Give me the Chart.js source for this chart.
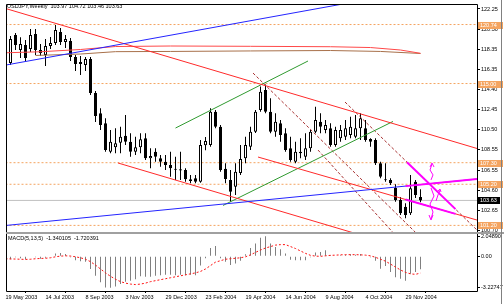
<!DOCTYPE html>
<html>
<head>
<meta charset="utf-8">
<script src="https://cdn.jsdelivr.net/npm/chart.js@4.4.1/dist/chart.umd.min.js"></script>
<style>
  html, body { margin: 0; padding: 0; background: #fff; }
  #wrap { position: relative; width: 504px; height: 304px; overflow: hidden; }
  canvas { position: absolute; left: 0; }
  #main { top: 0; }
  #macd { top: 232px; }
</style>
</head>
<body>
<div id="wrap">
  <canvas id="main" width="504" height="232"></canvas>
  <canvas id="macd" width="504" height="72"></canvas>
</div>
<script>
// weekly bars, index 0 = 19 May 2003
var dateLabels = ['19 May 2003','14 Jul 2003','8 Sep 2003','3 Nov 2003','29 Dec 2003','23 Feb 2004','19 Apr 2004','14 Jun 2004','9 Aug 2004','4 Oct 2004','29 Nov 2004'];
var dateBars = [0, 8, 16, 24, 32, 40, 48, 56, 64, 72, 80];

var opens = [115.90,116.99,119.72,118.26,118.75,118.36,119.82,118.26,117.77,118.65,
  118.94,120.01,119.04,119.14,117.58,116.90,116.80,117.38,114.08,112.10,
  111.13,108.37,108.80,109.24,109.92,109.34,108.37,108.80,109.67,107.73,
  108.37,107.73,107.40,107.07,106.70,106.65,106.59,105.68,105.78,105.45,
  109.00,109.02,112.26,110.80,106.70,105.62,104.97,106.30,107.73,108.86,
  110.32,112.43,114.37,112.26,110.32,111.13,110.16,108.70,107.40,108.37,
  107.88,108.70,110.32,111.29,110.48,110.64,109.02,109.67,109.83,110.00,
  109.83,110.65,110.65,109.61,109.51,107.24,105.67,105.62,104.86,103.67,
  103.02,102.38,105.44,103.97];
var highs = [117.00,119.62,119.92,119.50,119.23,120.30,120.30,118.85,119.33,119.53,
  120.69,120.40,119.72,119.43,117.77,117.67,117.58,117.58,114.27,112.59,
  111.62,110.48,110.64,110.80,111.94,110.16,109.83,110.16,110.16,108.70,
  108.70,108.05,108.05,108.37,107.88,108.37,106.75,106.11,106.11,109.51,
  109.80,112.59,112.43,110.97,107.24,106.59,107.24,109.02,109.83,110.80,
  112.43,114.70,114.90,113.56,112.10,111.45,110.64,109.83,109.34,109.67,
  110.16,110.48,112.75,112.10,111.45,111.13,110.80,110.97,111.45,111.78,
  111.94,112.10,111.45,109.67,109.67,107.40,107.24,105.78,105.20,103.96,
  103.35,106.11,105.62,104.72];
var lows = [115.60,116.80,118.26,117.48,117.09,118.07,117.77,117.67,116.70,118.36,
  118.75,118.75,118.46,117.19,116.22,115.83,116.22,113.88,111.26,110.48,
  108.37,108.21,108.21,108.21,109.02,107.88,108.05,108.21,107.56,106.75,
  107.40,106.91,106.59,105.94,105.62,105.62,105.45,105.30,105.30,105.35,
  108.50,108.86,110.64,106.43,105.30,103.50,104.16,106.11,107.24,108.53,
  110.19,112.26,112.10,110.16,109.83,109.34,108.37,107.40,107.24,107.73,
  107.56,108.37,110.16,110.16,110.16,108.86,108.86,109.34,109.51,109.67,
  109.67,109.51,109.34,108.86,107.07,105.78,105.45,105.13,103.51,102.21,
  101.89,102.21,103.87,103.46];
var closes = [116.80,119.33,118.75,118.85,117.48,119.72,118.26,117.97,118.65,118.94,
  120.21,119.04,119.33,117.58,116.90,117.09,117.38,114.08,111.84,110.97,
  108.53,109.34,109.18,109.83,109.34,108.37,108.80,109.57,107.73,107.95,
  107.88,107.40,107.07,106.75,106.62,106.55,105.68,105.52,105.45,109.02,
  109.40,112.26,110.80,106.59,105.72,104.48,106.43,107.66,109.02,110.32,
  112.26,114.21,112.26,110.32,111.29,109.99,108.53,107.56,108.37,108.21,
  108.70,110.32,111.45,110.80,110.97,109.02,110.48,110.48,110.64,110.80,
  110.64,111.62,109.51,109.34,107.24,105.94,105.60,105.29,103.67,102.38,
  102.21,104.81,104.15,103.63];

var macdMain = [-0.25,-0.3,-0.1,-0.2,-0.3,-0.05,-0.1,-0.25,-0.15,0.05,
  0.3,0.35,0.25,-0.1,-0.4,-0.5,-0.55,-1.3,-2.0,-2.65,
  -3.2,-3.22747,-3.1,-2.85,-2.6,-2.5,-2.35,-2.05,-2.1,-2.1,
  -2.0,-1.95,-1.9,-1.9,-1.95,-1.9,-1.95,-1.9,-1.95,-0.95,
  -0.2,0.86,1.07,-0.2,-0.55,-0.9,-0.75,-0.45,0.2,0.85,
  1.31,1.9,2.0489,1.31,0.96,0.72,0.28,-0.34,-0.41,-0.41,
  -0.4,-0.1,0.38,0.45,0.62,0.1,0.05,0.1,0.15,0.2,
  0.15,0.25,0.05,-0.1,-0.45,-1.28,-1.0,-1.62,-2.14,-2.31,
  -2.5,-1.8,-1.62,-1.340105];
var macdSignal = [-0.25,-0.27,-0.28,-0.3,-0.32,-0.3,-0.25,-0.22,-0.2,-0.15,
  -0.05,0.02,0.05,0.03,-0.05,-0.15,-0.3,-0.55,-0.9,-1.3,
  -1.7,-2.05,-2.35,-2.6,-2.75,-2.85,-2.9,-2.85,-2.75,-2.6,
  -2.5,-2.4,-2.3,-2.2,-2.1,-2.0,-1.9,-1.8,-1.7,-1.55,
  -1.3,-0.95,-0.6,-0.45,-0.3,-0.25,-0.2,-0.15,-0.05,0.15,
  0.4,0.65,0.85,1.0,1.15,1.2,1.2,1.0,0.8,0.55,
  0.3,0.1,0.02,0.0,0.05,0.1,0.12,0.15,0.17,0.17,
  0.17,0.15,0.12,0.05,-0.1,-0.3,-0.5,-0.8,-1.1,-1.4,
  -1.65,-1.8,-1.85,-1.720391];

var priceTicks = [122.25,120.30,118.35,116.35,114.40,112.45,110.50,108.55,106.55,104.60,102.65,100.70];
var macdTicks = [2.04890, 0, -3.22747];
var levels = [120.74, 115.00, 107.30, 105.20, 101.20];
var bidPrice = 103.63;

// drawn objects: [bar index, price]
var blueUpper = [[0,116.79],[70,122.96]];
var blueLower = [[0,101.19],[95,105.74]];
var redTop = [[0,122.30],[95,108.58]];
var redLow = [[22.5,107.27],[71,100.27]];
var redMid = [[50.5,107.85],[95,101.62]];
var greenUp = [[34,110.67],[60.5,117.19]];
var greenLow = [[43.5,103.14],[77.5,111.31]];
var dash1 = [[49.5,116.02],[83,100.04]];
var dash2 = [[67.9,113.20],[95,100.42]];
var dash3 = [[62.5,108.53],[78,100.24]];
var redMA = [[0,117.99],[7,118.09],[15,118.31],[22,118.60],[33,118.65],[49,118.62],[65,118.58],[73,118.50],[79,118.26],[83,117.94]];
var brownMA = [[6,117.73],[15,117.87],[22,118.10],[33,118.12],[49,118.17],[65,118.21],[75,118.12],[83,117.92]];
var magBlue = [[80,105.02],[95,105.74]];
var magMid = [[80,103.72],[90,102.32]];
var magDiag = [[80.3,107.35],[90,102.78]];
var arrowUp = [[85.1,105.62],[85.5,106.11],[84.9,106.59],[85.3,107.17],null,[84.9,106.88],[85.3,107.27],[85.7,106.88]];
var arrowDown = [[85.1,104.84],[85.7,104.06],[84.9,103.28],[85.5,102.5],[85.1,101.82],null,[84.7,102.21],[85.1,101.72],[85.5,102.21]];
var arrowSmall = [[86.1,103.57],[86.5,104.16],[86.9,104.64],null,[86.5,104.55],[86.9,104.74],[87.1,104.45]];

var FONT = '"Liberation Sans", Arial, sans-serif';
Chart.defaults.font.family = FONT;

function pts(arr) {
  var out = [], lastX = 0;
  for (var i = 0; i < arr.length; i++) {
    if (arr[i] === null) { out.push({x: lastX, y: null}); continue; }
    lastX = arr[i][0];
    out.push({x: arr[i][0], y: arr[i][1]});
  }
  return out;
}
function lineDs(arr, color, width, dash, order) {
  return { type: 'line', data: pts(arr), borderColor: color, borderWidth: width,
    borderDash: dash || [], pointRadius: 0, tension: 0, fill: false, spanGaps: false, order: order };
}

var datasets = [
  lineDs(arrowUp, '#ff00ff', 1, null, 0),
  lineDs(arrowDown, '#ff00ff', 1, null, 0),
  lineDs(arrowSmall, '#ff00ff', 1, null, 0),
  lineDs(magBlue, '#ff00ff', 2, null, 1),
  lineDs(magMid, '#ff00ff', 2, null, 1),
  lineDs(magDiag, '#ff00ff', 2, null, 1),
  lineDs(blueUpper, '#2424ff', 1, null, 2),
  lineDs(blueLower, '#2424ff', 1, null, 2),
  lineDs(redTop, '#ff2a2a', 1, null, 2),
  lineDs(redLow, '#ff2a2a', 1, null, 2),
  lineDs(redMid, '#ff2a2a', 1, null, 2),
  lineDs(greenUp, '#2f9a2f', 1, null, 2),
  lineDs(greenLow, '#2f9a2f', 1, null, 2),
  lineDs(dash1, '#a83232', 1, [3, 2], 3),
  lineDs(dash2, '#a83232', 1, [3, 2], 3),
  lineDs(dash3, '#a83232', 1, [3, 2], 3),
  lineDs(redMA, '#ff4848', 1, null, 4),
  lineDs(brownMA, '#a8704a', 1, null, 4),
  {
    label: 'bodies',
    data: opens.map(function(o, i) { return {x: i, y: [o, closes[i]]}; }),
    backgroundColor: opens.map(function(o, i) { return closes[i] >= o ? '#ffffff' : '#000000'; }),
    borderColor: '#000000', borderWidth: 1, borderSkipped: false,
    barThickness: 3, minBarLength: 1, grouped: false, inflateAmount: 0, order: 20
  },
  {
    label: 'wicks',
    data: lows.map(function(l, i) { return {x: i, y: [l, highs[i]]}; }),
    backgroundColor: '#000000', borderWidth: 0,
    barThickness: 1, grouped: false, inflateAmount: 0, order: 21
  },
  lineDs([[0, bidPrice], [95, bidPrice]], '#c0c0c0', 1, null, 30)
];
levels.forEach(function(v) {
  datasets.push(lineDs([[0, v], [95, v]], '#f4a460', 1, [2, 2], 31));
});

var titleText = 'USDJPY,Weekly  ' + [opens[83], highs[83], lows[83], closes[83]].map(function(v){ return v.toFixed(2); }).join(' ');

var mainDeco = {
  id: 'mainDeco',
  afterDraw: function(chart) {
    var ctx = chart.ctx, a = chart.chartArea, ys = chart.scales.y;
    ctx.save();
    ctx.strokeStyle = '#000'; ctx.lineWidth = 1;
    ctx.beginPath();
    ctx.moveTo(a.left + 0.5, a.bottom);
    ctx.lineTo(a.left + 0.5, a.top + 0.5);
    ctx.lineTo(a.right + 0.5, a.top + 0.5);
    ctx.lineTo(a.right + 0.5, a.bottom);
    ctx.stroke();
    ctx.font = '5.5px ' + FONT;
    ctx.textBaseline = 'middle'; ctx.textAlign = 'left';
    ctx.fillStyle = '#000';
    ctx.fillText(titleText, a.left + 1, a.top + 2.5);
    levels.forEach(function(v) {
      var py = Math.round(ys.getPixelForValue(v));
      ctx.fillStyle = '#f4a460';
      ctx.fillRect(a.right + 1, py - 3, 25, 7);
      ctx.fillStyle = '#fff';
      ctx.fillText(v.toFixed(2), a.right + 3, py + 0.5);
    });
    var by = Math.round(ys.getPixelForValue(bidPrice));
    ctx.fillStyle = '#000';
    ctx.fillRect(a.right + 1, by - 3, 22, 7);
    ctx.fillStyle = '#fff';
    ctx.fillText(bidPrice.toFixed(2), a.right + 3, by + 0.5);
    ctx.fillStyle = '#808080';
    ctx.fillRect(501, 0, 1, chart.height);
    ctx.restore();
  }
};

new Chart(document.getElementById('main'), {
  type: 'bar',
  data: { datasets: datasets },
  options: {
    responsive: false, animation: false, devicePixelRatio: 1, events: [],
    layout: { padding: { left: 6, top: 4, right: 0, bottom: 0 } },
    plugins: { legend: { display: false }, tooltip: { enabled: false } },
    scales: {
      x: { type: 'linear', min: 0.1, max: 94.3, display: false, offset: false },
      y: {
        position: 'right', min: 100.557, max: 122.736,
        afterBuildTicks: function(s) { s.ticks = priceTicks.map(function(v){ return {value: v}; }); },
        afterFit: function(s) { s.width = 27; s.paddingTop = 0; s.paddingBottom = 0; },
        grid: { drawOnChartArea: false, drawTicks: true, tickLength: 3, color: '#000' },
        border: { display: false },
        ticks: { padding: 1, color: '#000', font: { size: 5.5 },
          callback: function(v) { return Number(v).toFixed(2); } }
      }
    }
  },
  plugins: [mainDeco]
});

var macdText = 'MACD(5,13,5)  ' + macdMain[83].toFixed(6) + '  ' + macdSignal[83].toFixed(6);

var macdDeco = {
  id: 'macdDeco',
  beforeDraw: function(chart) {
    var ctx = chart.ctx;
    ctx.save();
    ctx.fillStyle = '#a0a0a0';
    ctx.fillRect(6, 0, 498, 2);
    ctx.restore();
  },
  afterDraw: function(chart) {
    var ctx = chart.ctx, a = chart.chartArea;
    ctx.save();
    ctx.strokeStyle = '#000'; ctx.lineWidth = 1;
    ctx.beginPath();
    ctx.moveTo(a.left + 0.5, a.top);
    ctx.lineTo(a.left + 0.5, a.bottom + 0.5);
    ctx.lineTo(a.right + 0.5, a.bottom + 0.5);
    ctx.lineTo(a.right + 0.5, a.top);
    ctx.stroke();
    ctx.font = '5.5px ' + FONT;
    ctx.textBaseline = 'middle'; ctx.textAlign = 'left';
    ctx.fillStyle = '#000';
    ctx.fillText(macdText, a.left + 2, a.top + 4);
    ctx.fillStyle = '#808080';
    ctx.fillRect(501, 0, 1, chart.height);
    ctx.restore();
  }
};

new Chart(document.getElementById('macd'), {
  type: 'bar',
  data: { datasets: [
    { type: 'line', data: macdSignal.map(function(v, i){ return {x: i, y: v}; }),
      borderColor: '#ff1010', borderWidth: 1, borderDash: [2, 2], pointRadius: 0, tension: 0, order: 0 },
    { data: macdMain.map(function(v, i){ return {x: i, y: v}; }),
      backgroundColor: '#808080', barThickness: 1, grouped: false, inflateAmount: 0, order: 1 }
  ]},
  options: {
    responsive: false, animation: false, devicePixelRatio: 1, events: [],
    layout: { padding: { left: 6, top: 2, right: 0, bottom: 0 } },
    plugins: { legend: { display: false }, tooltip: { enabled: false } },
    scales: {
      x: {
        type: 'linear', min: 0.1, max: 94.3, offset: false,
        afterBuildTicks: function(s) { s.ticks = dateBars.map(function(v){ return {value: v}; }); },
        afterFit: function(s) { s.height = 13; s.paddingLeft = 0; s.paddingRight = 0; },
        grid: { drawOnChartArea: false, drawTicks: true, tickLength: 2, color: '#000' },
        border: { display: false },
        ticks: { autoSkip: false, maxRotation: 0, minRotation: 0, align: 'start', padding: 1,
          color: '#000', font: { size: 5.5 },
          callback: function(v, idx) { return dateLabels[idx]; } }
      },
      y: {
        position: 'right', min: -3.56, max: 2.29,
        afterBuildTicks: function(s) { s.ticks = macdTicks.map(function(v){ return {value: v}; }); },
        afterFit: function(s) { s.width = 27; s.paddingTop = 0; s.paddingBottom = 0; },
        grid: { drawOnChartArea: false, drawTicks: true, tickLength: 3, color: '#000' },
        border: { display: false },
        ticks: { padding: 1, color: '#000', font: { size: 5.5 },
          callback: function(v) { return v === 0 ? '0.00' : Number(v).toFixed(5); } }
      }
    }
  },
  plugins: [macdDeco]
});
</script>
</body>
</html>
